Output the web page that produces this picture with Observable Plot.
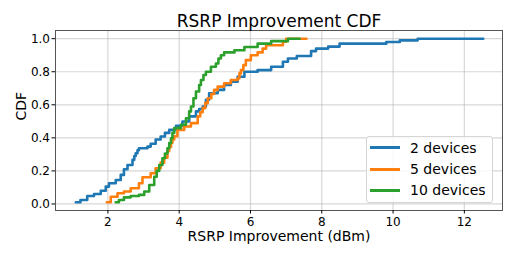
<!DOCTYPE html>
<html><head><meta charset="utf-8">
<script src="https://cdn.jsdelivr.net/npm/d3@7"></script>
<script src="https://cdn.jsdelivr.net/npm/@observablehq/plot@0.6"></script>
<style>
body{margin:0;background:#fff;font-family:"DejaVu Sans",sans-serif;}
#wrap{position:relative;width:515px;height:258px;}
#legend{position:absolute;left:366px;top:136px;width:127px;height:67px;box-sizing:border-box;border:1px solid #d5d5d5;border-radius:3px;background:rgba(255,255,255,0.8);}
.row{position:absolute;left:0;height:20px;display:flex;align-items:center;font-size:14px;color:#000;white-space:nowrap;}
.sw{width:30px;height:3px;margin-left:3px;margin-right:10px;}
</style></head><body><div id="wrap"><div id="legend"></div></div>
<script>
const series = ["2 devices", "5 devices", "10 devices"];
const colors = ["#1f77b4", "#ff7f0e", "#2ca02c"];
const xTicks = [2, 4, 6, 8, 10, 12];
const yTicks = [0, 0.2, 0.4, 0.6, 0.8, 1.0];

// CDF step points (x: dBm, y: cumulative fraction)
const x2dev = [1.1, 1.23, 1.42, 1.61, 1.8, 1.94, 2.03, 2.22, 2.36, 2.45, 2.55, 2.69, 2.74, 2.78, 2.83, 2.87, 3.11, 3.2, 3.34, 3.48, 3.6, 3.72, 3.91, 4.09, 4.28, 4.47, 4.56, 4.66, 4.75, 4.84, 5.08, 5.26, 5.45, 5.64, 5.83, 6.2, 6.58, 6.91, 7.05, 7.3, 7.7, 7.84, 8.18, 8.5, 9.81, 10.19, 10.69, 12.53];
const y2dev = [0.01, 0.024, 0.048, 0.06, 0.08, 0.105, 0.125, 0.145, 0.176, 0.21, 0.236, 0.267, 0.29, 0.307, 0.325, 0.337, 0.347, 0.364, 0.39, 0.408, 0.43, 0.448, 0.473, 0.499, 0.53, 0.56, 0.575, 0.59, 0.63, 0.67, 0.69, 0.72, 0.74, 0.77, 0.8, 0.81, 0.83, 0.86, 0.88, 0.895, 0.925, 0.94, 0.952, 0.97, 0.98, 0.99, 1.0, 1.0];

const x5dev = [1.97, 2.08, 2.27, 2.45, 2.64, 2.87, 2.97, 3.2, 3.34, 3.48, 3.58, 3.67, 3.72, 3.77, 3.81, 3.86, 3.95, 4.14, 4.33, 4.52, 4.59, 4.66, 4.73, 4.8, 4.9, 4.98, 5.08, 5.26, 5.45, 5.64, 5.69, 5.73, 5.8, 5.87, 6.01, 6.2, 6.34, 6.44, 6.91, 7.0, 7.57];
const y5dev = [0.01, 0.044, 0.065, 0.075, 0.095, 0.125, 0.162, 0.186, 0.216, 0.25, 0.28, 0.32, 0.345, 0.37, 0.39, 0.41, 0.448, 0.469, 0.489, 0.53, 0.555, 0.58, 0.61, 0.64, 0.665, 0.69, 0.71, 0.73, 0.75, 0.76, 0.79, 0.81, 0.84, 0.87, 0.9, 0.917, 0.94, 0.96, 0.982, 1.0, 1.0];

const x10dev = [2.22, 2.31, 2.45, 2.64, 2.87, 3.02, 3.16, 3.3, 3.37, 3.44, 3.53, 3.6, 3.67, 3.72, 3.77, 3.81, 3.86, 4.05, 4.19, 4.28, 4.33, 4.4, 4.47, 4.56, 4.61, 4.68, 4.75, 4.89, 5.03, 5.1, 5.17, 5.26, 5.55, 5.83, 6.2, 6.58, 7.05, 7.38];
const y10dev = [0.01, 0.024, 0.04, 0.048, 0.055, 0.075, 0.115, 0.165, 0.2, 0.236, 0.277, 0.305, 0.337, 0.368, 0.398, 0.43, 0.459, 0.479, 0.519, 0.56, 0.59, 0.64, 0.68, 0.72, 0.75, 0.78, 0.8, 0.83, 0.85, 0.88, 0.9, 0.917, 0.93, 0.95, 0.97, 0.985, 1.0, 1.0];

const xs = [x2dev, x5dev, x10dev];
const ys = [y2dev, y5dev, y10dev];
const data = [];
series.forEach((s, i) => xs[i].forEach((x, j) => data.push({s, x, y: ys[i][j]})));

const chart = Plot.plot({
  width: 515, height: 258,
  marginLeft: 55, marginRight: 13, marginTop: 30, marginBottom: 48,
  style: {fontFamily: "DejaVu Sans", fontSize: "12px", background: "white", color: "black", overflow: "visible"},
  x: {domain: [0.53, 13.07]},
  y: {domain: [-0.0395, 1.0495]},
  color: {domain: series, range: colors},
  marks: [
    Plot.gridX(xTicks, {stroke: "#b0b0b0", strokeOpacity: 0.5, strokeWidth: 1.2}),
    Plot.gridY(yTicks, {stroke: "#b0b0b0", strokeOpacity: 0.5, strokeWidth: 1.2}),
    Plot.line(data, {x: "x", y: "y", z: "s", stroke: "s", curve: "step-after", strokeWidth: 2.6}),
    Plot.frame({stroke: "#555", strokeWidth: 1}),
    Plot.axisX(xTicks, {tickSize: 3.5, tickPadding: 3, fontSize: 12, label: null, tickFormat: d => String(d)}),
    Plot.axisY(yTicks, {tickSize: 3.5, tickPadding: 2, fontSize: 12, label: null, tickFormat: d => d.toFixed(1)}),
    Plot.text(["RSRP Improvement CDF"], {text: d => d, frameAnchor: "top", dy: -9, fontSize: 17, lineAnchor: "middle"}),
    Plot.text(["RSRP Improvement (dBm)"], {text: d => d, frameAnchor: "bottom", dy: 26.5, fontSize: 14, lineAnchor: "middle"}),
    Plot.text(["CDF"], {text: d => d, frameAnchor: "left", dx: -34, rotate: -90, fontSize: 14, lineAnchor: "middle"})
  ]
});
const wrap = document.getElementById("wrap");
wrap.insertBefore(chart, wrap.firstChild);

const legend = document.getElementById("legend");
const rowTops = [0.7, 22.3, 43];
series.forEach((s, i) => {
  const row = document.createElement("div");
  row.className = "row";
  row.style.top = rowTops[i] + "px";
  const sw = document.createElement("span");
  sw.className = "sw";
  sw.style.background = colors[i];
  const t = document.createElement("span");
  t.textContent = s;
  row.appendChild(sw);
  row.appendChild(t);
  legend.appendChild(row);
});
</script>
</body></html>
